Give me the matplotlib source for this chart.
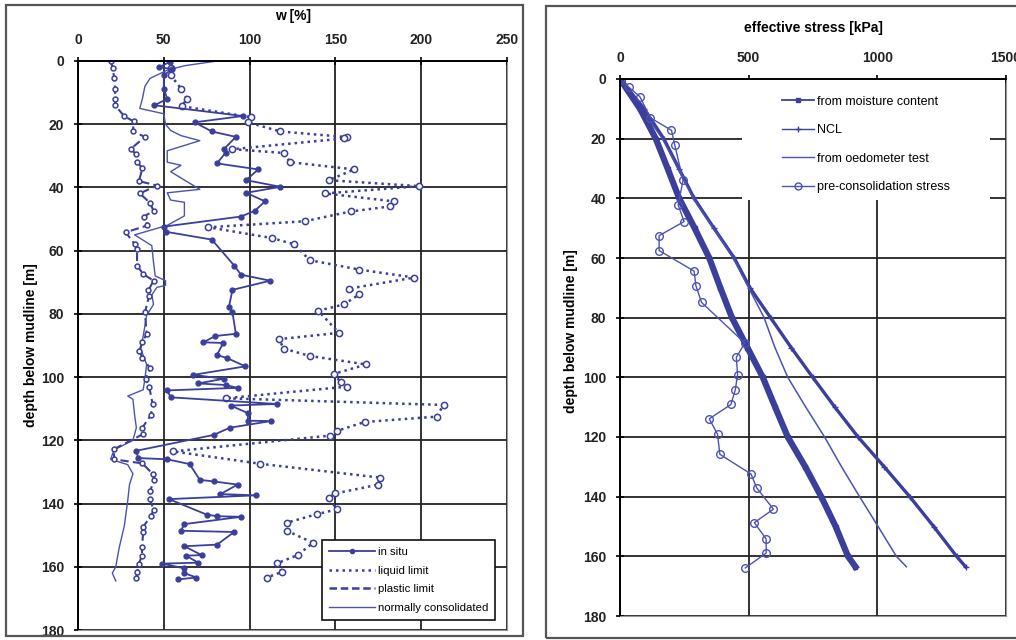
import matplotlib
matplotlib.use("Agg")
import matplotlib.pyplot as plt
from matplotlib.lines import Line2D
from matplotlib.patches import Rectangle

plt.rcParams["font.family"] = ["Liberation Sans", "DejaVu Sans"]

# ---- left panel: water content profiles (depth [m], w [%])
insitu_d = [0.3, 2.0, 2.5, 4.5, 8.7, 12.0, 14.0, 17.4, 19.4, 22.3, 24.0, 27.9, 29.0, 32.4,
            34.3, 37.7, 39.8, 41.7, 44.4, 47.4, 49.2, 52.4, 54.0, 56.5, 64.7, 67.6, 69.5,
            72.4, 77.7, 79.5, 86.3, 87.0, 89.0, 89.2, 93.0, 94.0, 96.6, 99.3, 100.5, 102.0,
            102.5, 103.4, 104.2, 106.4, 108.5, 109.0, 111.4, 113.8, 113.9, 116.0, 118.3,
            123.3, 125.6, 126.0, 127.5, 132.5, 133.0, 134.0, 137.0, 137.4, 138.6, 143.5,
            144.0, 144.2, 146.5, 148.6, 149.0, 153.0, 153.5, 156.3, 156.5, 158.7, 159.0,
            160.5, 162.0, 163.4, 164.0]
insitu_w = [53.5, 47, 55, 50, 50, 52, 44.5, 96, 68, 78, 92, 85, 86, 81,
            105, 98, 118, 98, 109, 103, 95, 50, 51, 78, 91, 95, 112,
            90, 88, 90, 92, 80, 73, 84.6, 81, 87, 97.5, 67, 85, 70,
            86, 93, 52, 54, 116, 89, 99, 99, 112.5, 88.5, 79,
            34, 35, 52, 65, 71, 79, 93, 83, 103.5, 53, 75,
            81, 95, 62, 60, 91, 81, 62, 72, 63, 70, 49,
            62, 62, 69, 58]

liquid_d = [2.3, 4.5, 8.7, 12.0, 14.3, 17.8, 19.4, 22.3, 24.1, 24.5, 27.9, 29.1, 32.0,
            34.3, 37.7, 39.6, 41.9, 44.4, 46.0, 47.6, 50.7, 52.6, 56.0, 58.0, 63.0, 66.0,
            68.5, 72.0, 73.8, 77.0, 79.0, 86.0, 88.0, 91.0, 93.3, 96.0, 99.0, 101.5, 103.0,
            106.7, 108.8, 112.5, 114.2, 117.0, 118.5, 123.5, 127.4, 131.8, 134.0, 136.8,
            138.3, 141.8, 143.4, 146.0, 148.7, 152.4, 156.3, 158.9, 161.6, 163.4]
liquid_w = [54, 54, 60, 63.5, 60.5, 101, 99, 118, 157, 155, 90, 120, 123.5,
            161, 146, 199, 144, 184, 182, 159, 132, 76, 113, 126, 135, 164,
            196, 158, 164, 155, 140, 152, 117, 120, 135, 168, 149, 153, 157,
            86, 213, 209, 167, 151, 147, 55.5, 106, 176, 175, 150,
            146, 151, 139, 122, 122, 137, 128, 116, 119, 110]

plastic_d = [0, 2.3, 5.5, 8.7, 12, 14, 17.5, 19.1, 22.3, 24, 27.7, 29.5, 32, 34, 38,
             39.4, 41.9, 44.9, 47.4, 49.2, 52, 54.2, 57.9, 59.5, 64.7, 67.4, 69.5, 72.6,
             74.2, 79.5, 86.3, 89, 91.7, 93.8, 97.2, 100.5, 103, 108.6, 112, 116, 118,
             122.8, 126, 127.3, 130.6, 132.6, 136, 138.7, 142, 144, 147.3, 149, 153.8,
             156.5, 159, 161.8, 163.4]
plastic_w = [19, 20.4, 21, 21.6, 21.6, 21.6, 27, 32.5, 32, 39, 31, 33.6, 34.6, 37.5, 35.5,
             46, 36, 42, 44, 38.5, 40.5, 27.8, 33, 34.4, 34.4, 38, 44, 41,
             41.5, 39, 40, 37.5, 35.7, 37.5, 42, 39.4, 41.5, 43.5, 42.5, 37.5, 38,
             21, 21, 37.5, 43.5, 44.5, 42, 42, 44, 42.5, 38, 38, 37.3,
             37.3, 35.5, 34.6, 34]

nc_d = [0, 1.5, 2.9, 5.5, 8, 12, 15, 16.7, 20, 22, 23.6, 25.2, 28.4, 32, 33, 35, 38,
        40.6, 41.7, 44, 44.7, 49, 52, 55, 58.4, 63.7, 68, 69.5, 71, 71.6, 74, 77, 80.5,
        87, 91, 96, 100.5, 104, 106, 107, 112, 116, 120, 123, 126, 127.7, 130.6, 134,
        139, 147, 154, 160, 162, 164.5]
nc_w = [81, 62, 52, 42, 39, 37.5, 36, 50, 51, 54, 60, 71, 52, 52, 60, 54, 63,
        71, 52, 54, 62, 62, 52, 33, 43, 44, 45, 51, 51, 46, 43, 44, 40,
        38, 36.5, 40, 39, 38, 29, 32, 33, 34, 32, 21, 19, 29, 32, 30,
        29, 27, 24, 22, 20, 22]

# ---- right panel: effective stress profiles (depth [m], stress [kPa])
moist_d = [0, 10, 20, 30, 40, 50, 60, 70, 80, 90, 100, 110, 120, 130, 140, 150, 160, 163.5]
moist_s = [0, 78, 139, 185, 230, 290, 347, 390, 435, 495, 555, 603, 652, 720, 782, 838, 886, 915]

ncl_d = [0, 10, 20, 30, 40, 50, 60, 70, 80, 90, 100, 110, 120, 130, 140, 150, 160, 163.5]
ncl_s = [0, 94, 170, 229, 288, 365, 444, 505, 585, 665, 749, 835, 925, 1027, 1126, 1219, 1308, 1343]

oed_d = [0, 20, 40, 60, 70, 80, 90, 100, 110, 120, 130, 140, 150, 160, 163.5]
oed_s = [0, 165, 285, 440, 500, 560, 602, 652, 722, 795, 861, 931, 1003, 1074, 1113]

precon_d = [0.5, 2.8, 5.9, 13.0, 17.2, 22.2, 34.0, 42.2, 47.8, 52.5, 57.5, 64.4, 69.3, 74.9,
            88.5, 93.3, 99.1, 104.2, 109.1, 113.9, 119.1, 125.8, 132.4, 137.0, 144.2, 148.7,
            154.2, 158.9, 163.9]
precon_s = [5, 35, 77, 118, 200, 213, 245, 226, 249, 152, 152, 288, 295, 317,
            485, 452, 457, 448, 431, 347, 379, 388, 509, 531, 596, 522,
            568, 568, 487]

blue = "#3a3f9c"
blue2 = "#4b52b4"
gridc = "#222222"

fig = plt.figure(figsize=(10.16, 6.4), dpi=100)

# panel frames
fig.add_artist(Rectangle((6 / 1016, 1 - 636 / 640), 517 / 1016, 631 / 640,
                         transform=fig.transFigure, fill=False, ec="#555555", lw=1.6))
fig.add_artist(Rectangle((546 / 1016, 1 - 638 / 640), 480 / 1016, 632 / 640,
                         transform=fig.transFigure, fill=False, ec="#555555", lw=1.6))


def setup_axis(ax, xmax, xstep):
    ax.set_ylim(180, 0)
    ax.set_xlim(0, xmax)
    ax.xaxis.tick_top()
    ax.xaxis.set_label_position("top")
    ax.set_xticks(range(0, xmax + 1, xstep))
    ax.set_yticks(range(0, 181, 20))
    ax.set_axisbelow(True)
    ax.grid(True, color=gridc, lw=1.3)
    ax.tick_params(direction="inout", length=6, width=1.2, labelsize=10, pad=7)
    for lab in ax.get_xticklabels() + ax.get_yticklabels():
        lab.set_fontweight("bold")
        lab.set_color("#222222")
    ax.spines["top"].set_linewidth(1.4)
    ax.spines["left"].set_linewidth(1.4)
    ax.spines["right"].set_color("#999999")
    ax.spines["bottom"].set_color("#999999")
    ax.set_ylabel("depth below mudline [m]", fontsize=10, fontweight="bold")


# left panel
ax1 = fig.add_axes([78 / 1016, 1 - 630 / 640, 429 / 1016, 569 / 640])
setup_axis(ax1, 250, 50)
ax1.set_xlabel("w [%]", fontsize=10, fontweight="bold")
ax1.xaxis.set_label_coords(0.501, 1.072)
ax1.yaxis.set_label_coords(-0.093, 0.5)

ax1.plot(nc_w, nc_d, color=blue2, lw=1.0)
ax1.plot(plastic_w, plastic_d, color=blue, lw=1.5, ls=(0, (4, 2)),
         marker="o", ms=3.5, mfc="white", mec=blue, mew=1.1)
ax1.plot(liquid_w, liquid_d, color=blue, lw=1.8, ls=(0, (1, 1.6)),
         marker="o", ms=4.5, mfc="white", mec=blue, mew=1.1)
ax1.plot(insitu_w, insitu_d, color=blue, lw=1.3, marker="o", ms=3.5, mfc=blue, mec=blue)

h1 = [Line2D([], [], color=blue, lw=1.3, marker="o", ms=3),
      Line2D([], [], color=blue, lw=1.8, ls=(0, (1, 1.6))),
      Line2D([], [], color=blue, lw=1.8, ls=(0, (3, 1.5))),
      Line2D([], [], color=blue2, lw=1.0)]
leg1 = ax1.legend(h1, ["in situ", "liquid limit", "plastic limit", "normally consolidated"],
                  loc="lower right", bbox_to_anchor=(0.986, 0.008), fontsize=8.2,
                  handlelength=4.0, labelspacing=0.75, borderpad=0.6, handletextpad=0.3,
                  fancybox=False, framealpha=1, edgecolor="#111111")
leg1.get_frame().set_linewidth(1.2)

# right panel
ax2 = fig.add_axes([620 / 1016, 1 - 616 / 640, 386 / 1016, 537 / 640])
setup_axis(ax2, 1500, 500)
ax2.set_xlabel("effective stress [kPa]", fontsize=10, fontweight="bold")
ax2.xaxis.set_label_coords(0.5, 1.0875)
ax2.yaxis.set_label_coords(-0.11, 0.53)

# white area behind the legend hides the grid there
ax2.add_patch(Rectangle((0.316, 0.775), 0.643, 0.225, transform=ax2.transAxes,
                        fc="white", ec="none", zorder=1))

ax2.plot(ncl_s, ncl_d, color=blue, lw=2.4, marker="+", ms=4, mew=1.0)
ax2.plot(oed_s, oed_d, color=blue2, lw=1.1)
ax2.plot(moist_s, moist_d, color=blue, lw=4.5, marker="s", ms=3.5)
ax2.plot(precon_s, precon_d, color=blue2, lw=1.0, marker="o", ms=5.5, mfc="none",
         mec=blue2, mew=1.0)

h2 = [Line2D([], [], color=blue, lw=1.3, marker="s", ms=3.5),
      Line2D([], [], color=blue, lw=1.0, marker="+", ms=5),
      Line2D([], [], color=blue2, lw=1.0),
      Line2D([], [], color=blue2, lw=1.0, marker="o", ms=5, mfc="none")]
ax2.legend(h2, ["from moisture content", "NCL", "from oedometer test", "pre-consolidation stress"],
           loc="upper left", bbox_to_anchor=(0.39, 0.99), fontsize=9, frameon=False,
           handlelength=2.6, labelspacing=1.32, handletextpad=0.2)

fig.savefig("out.png", dpi=100)
